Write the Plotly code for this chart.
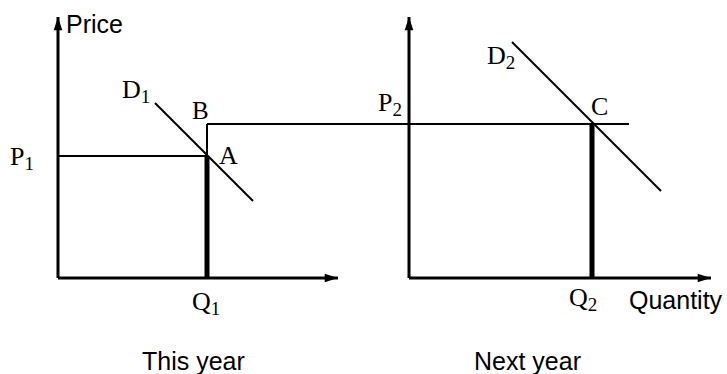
import plotly.graph_objects as go

# ---- data (panel-local units: quantity, price) ----
# This year (left panel)
Q1 = 14.9
P1 = 12.2
P2 = 15.4
D1_Q = [9.7, 19.5]
D1_P = [17.5, 7.7]
LEFT_QMAX = 28.0
PMAX = 26.1
# Next year (right panel)
Q2 = 18.3
D2_Q = [10.3, 25.2]
D2_P = [23.6, 8.7]
RIGHT_QMAX = 30.2
P2_LINE_END = 22.0
RIGHT_OFFSET = 35.1   # horizontal position of the right panel's origin

SERIF = "Liberation Serif"
SANS = "Liberation Sans"
BLACK = "black"

fig = go.Figure()


def line(xs, ys, w):
    fig.add_trace(go.Scatter(x=xs, y=ys, mode="lines",
                             line=dict(color=BLACK, width=w),
                             hoverinfo="skip", showlegend=False))


def arrow(x, y, angle):
    fig.add_trace(go.Scatter(x=[x], y=[y], mode="markers",
                             marker=dict(symbol="arrow", size=14, angle=angle,
                                         color=BLACK, line=dict(width=0)),
                             hoverinfo="skip", showlegend=False))


R = RIGHT_OFFSET
# axes of left panel
line([0, 0], [0, PMAX], 3)
line([0, LEFT_QMAX], [0, 0], 3)
arrow(0, PMAX, 0)
arrow(LEFT_QMAX, 0, 90)
# axes of right panel
line([R, R], [0, PMAX], 3)
line([R, R + RIGHT_QMAX], [0, 0], 3)
arrow(R, PMAX, 0)
arrow(R + RIGHT_QMAX, 0, 90)

# left panel content
line([0, Q1], [P1, P1], 2)
line([Q1, Q1], [P1, P2], 2)
line([Q1, Q1], [0, P1], 5)
line(D1_Q, D1_P, 2)
# price line B -> C across both panels
line([Q1, R + P2_LINE_END], [P2, P2], 2)
# right panel content
line([R + Q2, R + Q2], [0, P2], 5)
line([R + q for q in D2_Q], D2_P, 2)


def label(text, x, y, font, size, xanchor="center"):
    fig.add_annotation(x=x, y=y, text=text, showarrow=False,
                       xanchor=xanchor, yanchor="middle",
                       font=dict(family=font, size=size, color=BLACK))


def sub(base, idx):
    return base + '<sub><span style="font-size:19px">' + idx + '</span></sub>'


label("Price", 0.6, 25.4, SANS, 25, "left")
label(sub("D", "1"), D1_Q[0] - 0.3, 18.7, SERIF, 26, "right")
label("B", Q1 - 0.7, P2 + 1.4, SERIF, 25)
label("A", Q1 + 2.1, P1 + 0.1, SERIF, 26)
label(sub("P", "1"), -3.65, P1 - 0.2, SERIF, 26)
label(sub("Q", "1"), Q1 - 0.15, -2.5, SERIF, 26)
label("This year", 13.5, -8.3, SANS, 25)

label(sub("P", "2"), R - 1.95, P2 + 2.0, SERIF, 26)
label(sub("D", "2"), R + D2_Q[0] + 0.5, 22.1, SERIF, 26, "right")
label("C", R + Q2 + 0.75, P2 + 1.8, SERIF, 26)
label(sub("Q", "2"), R + Q2 - 0.95, -2.1, SERIF, 26)
label("Quantity", R + 26.65, -2.2, SANS, 25)
label("Next year", R + 11.8, -8.3, SANS, 25)

fig.update_layout(
    width=727, height=374,
    margin=dict(l=0, r=0, t=0, b=0),
    paper_bgcolor="white", plot_bgcolor="white",
    xaxis=dict(range=[-5.8, 66.9], visible=False, fixedrange=True),
    yaxis=dict(range=[-9.6, 27.8], visible=False, fixedrange=True),
    showlegend=False,
)

fig.write_html("out.html", config={"displayModeBar": False},
               post_script="document.body.style.margin='0';")
